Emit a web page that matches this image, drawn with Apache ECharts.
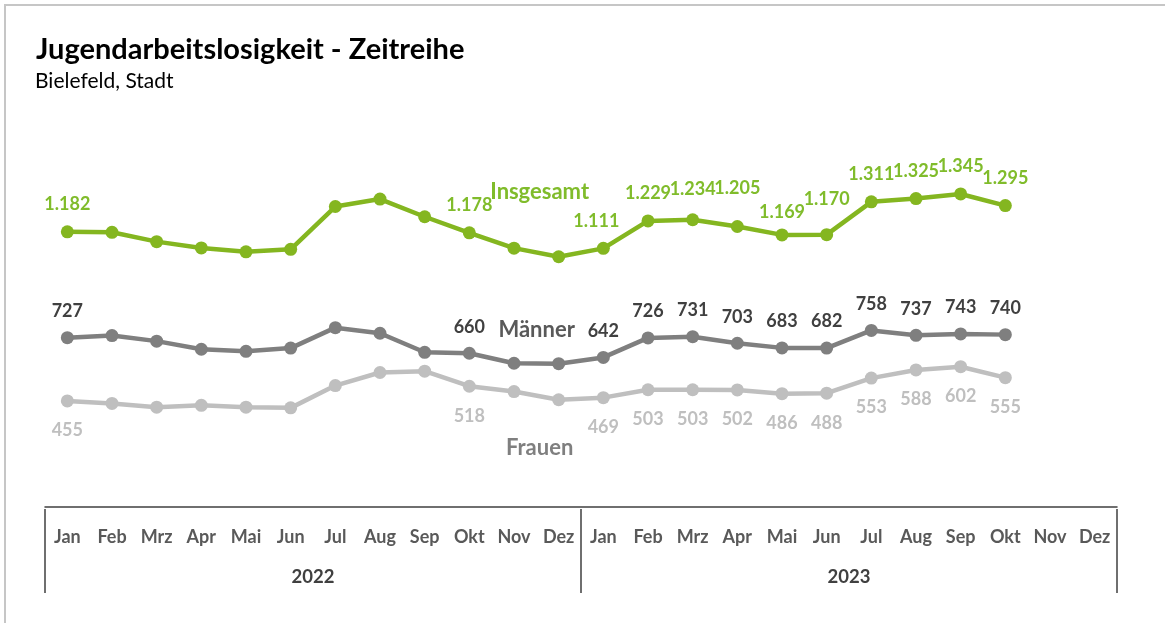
<!DOCTYPE html>
<html>
<head>
<meta charset="utf-8">
<script src="https://cdn.jsdelivr.net/npm/echarts@6/dist/echarts.min.js"></script>
<style>
  html, body { margin: 0; padding: 0; background: #fff; }
  #frame { position: absolute; left: 4px; top: 4px; width: 1161px; height: 619px;
           border-top: 2px solid #c6c6c6; border-left: 2px solid #c6c6c6; box-sizing: border-box; }
  #chart { position: absolute; left: 0; top: 0; width: 1165px; height: 623px; }
</style>
</head>
<body>
<div id="frame"></div>
<div id="chart"></div>
<script>
var months = ['Jan', 'Feb', 'Mrz', 'Apr', 'Mai', 'Jun', 'Jul', 'Aug', 'Sep', 'Okt', 'Nov', 'Dez',
              'Jan', 'Feb', 'Mrz', 'Apr', 'Mai', 'Jun', 'Jul', 'Aug', 'Sep', 'Okt', 'Nov', 'Dez'];
var years = ['2022', '2023'];

var insgesamt = [1182, 1180, 1140, 1113, 1096, 1107, 1291, 1323, 1247, 1178, 1112, 1075,
                 1111, 1229, 1234, 1205, 1169, 1170, 1311, 1325, 1345, 1295];
var maenner = [727, 736, 712, 677, 668, 682, 770, 746, 664, 660, 617, 615,
               642, 726, 731, 703, 683, 682, 758, 737, 743, 740];
var frauen = [455, 444, 428, 436, 428, 425, 521, 577, 583, 518, 495, 460,
              469, 503, 503, 502, 486, 488, 553, 588, 602, 555];

// which points get a value label, and where the series name sits
var labelled = [0, 9, 12, 13, 14, 15, 16, 17, 18, 19, 20, 21];
var nameIndex = 11;
// small label shifts for the crowded green labels (like in the original)
var greenNudge = { 12: [-7, 0], 14: [0, -3], 15: [0, -11], 16: [0, 5], 17: [0, -8] };

var font = 'Lato, "Open Sans", sans-serif';

function fmt(v) {
  return String(v).replace(/\B(?=(\d{3})+(?!\d))/g, '.');
}

function buildData(values, name, valueLabel, nameLabel, nudge) {
  return values.map(function (v, i) {
    if (i === nameIndex) {
      return { value: v, label: Object.assign({ show: true, formatter: name, position: 'inside' }, nameLabel) };
    }
    if (labelled.indexOf(i) >= 0) {
      var lab = Object.assign({ show: true, formatter: fmt(v) }, valueLabel);
      if (nudge && nudge[i]) lab.offset = nudge[i];
      return { value: v, label: lab };
    }
    return v;
  });
}

var chart = echarts.init(document.getElementById('chart'));

chart.setOption({
  animation: false,
  textStyle: { fontFamily: font },
  title: [
    { text: 'Jugendarbeitslosigkeit - Zeitreihe', left: 31, top: 30,
      textStyle: { fontSize: 29, fontWeight: 'bold', color: '#000', fontFamily: font } },
    { text: 'Bielefeld, Stadt', left: 30, top: 66,
      textStyle: { fontSize: 21, fontWeight: 'normal', color: '#000', fontFamily: font } }
  ],
  grid: { left: 45, right: 48, top: 137, bottom: 114 },
  xAxis: [
    {
      type: 'category', data: months, boundaryGap: true,
      axisLine: { lineStyle: { color: '#404040', width: 1.5 } },
      axisTick: { show: false },
      axisLabel: { interval: 0, margin: 19, fontSize: 18, fontWeight: 'bold', color: '#595959', fontFamily: font }
    },
    {
      type: 'category', data: years, position: 'bottom', boundaryGap: true,
      axisLine: { show: false },
      axisTick: { show: true, length: 84, lineStyle: { color: '#404040', width: 1.5 } },
      axisLabel: { margin: 59, fontSize: 18.5, fontWeight: 'bold', color: '#404040', fontFamily: font }
    }
  ],
  yAxis: { type: 'value', min: -10, max: 1590, show: false, splitLine: { show: false } },
  series: [
    {
      name: 'Frauen', type: 'line', xAxisIndex: 0,
      data: buildData(frauen, 'Frauen',
        { position: 'bottom', distance: 14, color: '#BFBFBF', fontSize: 18, fontWeight: 'bold' },
        { offset: [-19, 48], color: '#7F7F7F', fontSize: 22, fontWeight: 'bold' }),
      symbol: 'circle', symbolSize: 13,
      lineStyle: { color: '#BFBFBF', width: 4.5 },
      itemStyle: { color: '#BFBFBF' }
    },
    {
      name: 'Männer', type: 'line', xAxisIndex: 0,
      data: buildData(maenner, 'Männer',
        { position: 'top', distance: 11, color: '#404040', fontSize: 18, fontWeight: 'bold' },
        { offset: [-22, -34], color: '#595959', fontSize: 22, fontWeight: 'bold' }),
      symbol: 'circle', symbolSize: 13,
      lineStyle: { color: '#7F7F7F', width: 4.5 },
      itemStyle: { color: '#7F7F7F' }
    },
    {
      name: 'Insgesamt', type: 'line', xAxisIndex: 0,
      data: buildData(insgesamt, 'Insgesamt',
        { position: 'top', distance: 12, color: '#80BC2B', fontSize: 18, fontWeight: 'bold' },
        { offset: [-19, -65], color: '#80BC2B', fontSize: 22, fontWeight: 'bold' },
        greenNudge),
      symbol: 'circle', symbolSize: 13,
      lineStyle: { color: '#84B620', width: 4.5 },
      itemStyle: { color: '#84B620' }
    }
  ]
});
</script>
</body>
</html>
